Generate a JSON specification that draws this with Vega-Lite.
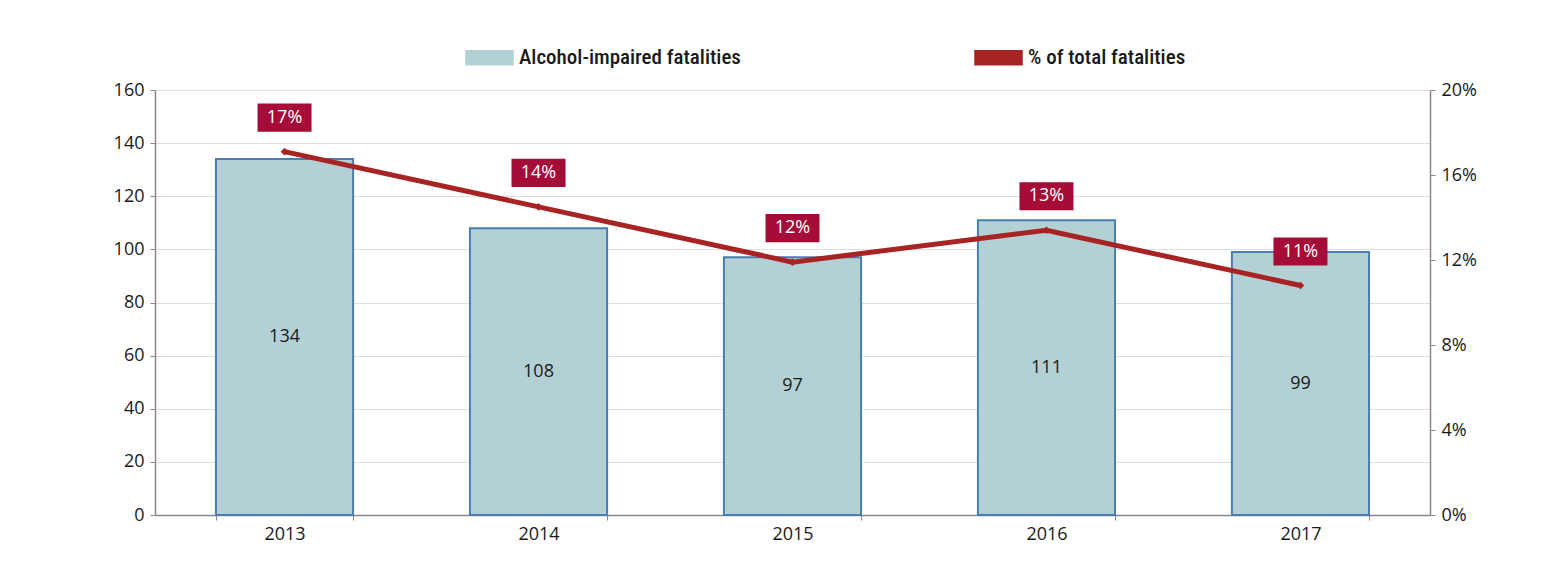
{
  "$schema": "https://vega.github.io/schema/vega-lite/v6.json",
  "autosize": "none",
  "width": 1275,
  "height": 425,
  "padding": {"left": 155, "top": 90, "right": 113, "bottom": 61},
  "background": "white",
  "data": {
    "values": [
      {"year": "2013", "fatalities": 134, "pct": 0.171, "label": "17%"},
      {"year": "2014", "fatalities": 108, "pct": 0.145, "label": "14%"},
      {"year": "2015", "fatalities": 97, "pct": 0.119, "label": "12%"},
      {"year": "2016", "fatalities": 111, "pct": 0.134, "label": "13%"},
      {"year": "2017", "fatalities": 99, "pct": 0.108, "label": "11%"}
    ]
  },
  "config": {
    "font": "Open Sans",
    "view": {"stroke": null},
    "axis": {
      "labelFont": "Open Sans",
      "labelFontSize": 18,
      "labelColor": "#1a1a1a",
      "domainColor": "#8f8585",
      "domainWidth": 1.5,
      "tickColor": "#8f8585",
      "tickSize": 5,
      "gridColor": "#e6dcdc",
      "gridWidth": 1.2
    }
  },
  "encoding": {
    "x": {
      "field": "year",
      "type": "nominal",
      "scale": {"paddingInner": 0.46, "paddingOuter": 0.24},
      "axis": {"title": null, "labelAngle": 0, "tickBand": "extent", "labelPadding": 5, "grid": false}
    }
  },
  "layer": [
    {
      "mark": {"type": "bar", "stroke": "#4a7db0", "strokeWidth": 2, "fillOpacity": 1},
      "encoding": {
        "y": {
          "field": "fatalities",
          "type": "quantitative",
          "scale": {"domain": [0, 160]},
          "axis": {"title": null, "values": [0, 20, 40, 60, 80, 100, 120, 140, 160], "grid": true, "labelPadding": 6}
        },
        "color": {
          "datum": "Alcohol-impaired fatalities",
          "type": "nominal",
          "scale": {
            "domain": ["Alcohol-impaired fatalities", "% of total fatalities"],
            "range": ["#b3d1d5", "#a82424"]
          },
          "legend": {
            "title": null,
            "orient": "none",
            "legendX": 310,
            "legendY": -57,
            "direction": "horizontal",
            "columnPadding": 231,
            "padding": 0,
            "labelFont": "Liberation Sans Narrow, Roboto Condensed, Liberation Sans, sans-serif",
            "labelFontSize": 21,
            "labelFontWeight": 500,
            "labelColor": "#1a1a1a",
            "labelOffset": 5,
            "labelLimit": 400,
            "symbolSize": 2209,
            "symbolType": "M-1,-0.3L1,-0.3L1,0.3L-1,0.3Z",
            "encode": {
              "symbols": {
                "update": {
                  "shape": {"signal": "datum.value === 'Alcohol-impaired fatalities' ? 'M-1,-0.3L1,-0.3L1,0.3L-1,0.3Z' : 'M-1,-0.11L1,-0.11L1,0.11L-1,0.11Z'"},
                  "fill": {"signal": "datum.value === 'Alcohol-impaired fatalities' ? '#b9dbe6' : '#a82424'"},
                  "stroke": {"signal": "datum.value === 'Alcohol-impaired fatalities' ? '#4a7db0' : '#a82424'"},
                  "strokeWidth": {"value": 1.5},
                  "opacity": {"value": 1},
                  "fillOpacity": {"value": 1}
                }
              }
            }
          }
        }
      }
    },
    {
      "mark": {"type": "text", "font": "Open Sans", "fontSize": 18, "color": "#1a1a1a", "baseline": "middle"},
      "encoding": {
        "y": {"field": "fatalities", "type": "quantitative", "scale": {"domain": [0, 320]}, "axis": null},
        "text": {"field": "fatalities", "type": "quantitative"}
      }
    },
    {
      "encoding": {
        "y": {
          "field": "pct",
          "type": "quantitative",
          "scale": {"domain": [0, 0.2]},
          "axis": {"title": null, "orient": "right", "format": ".0%", "values": [0, 0.04, 0.08, 0.12, 0.16, 0.2], "grid": false, "labelPadding": 6}
        }
      },
      "layer": [
        {
          "mark": {"type": "line", "strokeWidth": 5, "color": "#a82424"},
          "encoding": {"color": {"datum": "% of total fatalities", "type": "nominal"}}
        },
        {
          "mark": {"type": "point", "filled": true, "shape": "diamond", "size": 60, "color": "#a82424", "opacity": 1}
        },
        {
          "mark": {"type": "point", "filled": true, "shape": "M-1,-0.52L1,-0.52L1,0.52L-1,0.52Z", "size": 2916, "color": "#a50c38", "opacity": 1, "yOffset": -34}
        },
        {
          "mark": {"type": "text", "font": "Open Sans", "fontSize": 18, "color": "white", "baseline": "middle", "yOffset": -34},
          "encoding": {"text": {"field": "label", "type": "nominal"}}
        }
      ]
    }
  ],
  "resolve": {"scale": {"y": "independent"}, "axis": {"y": "independent"}}
}
